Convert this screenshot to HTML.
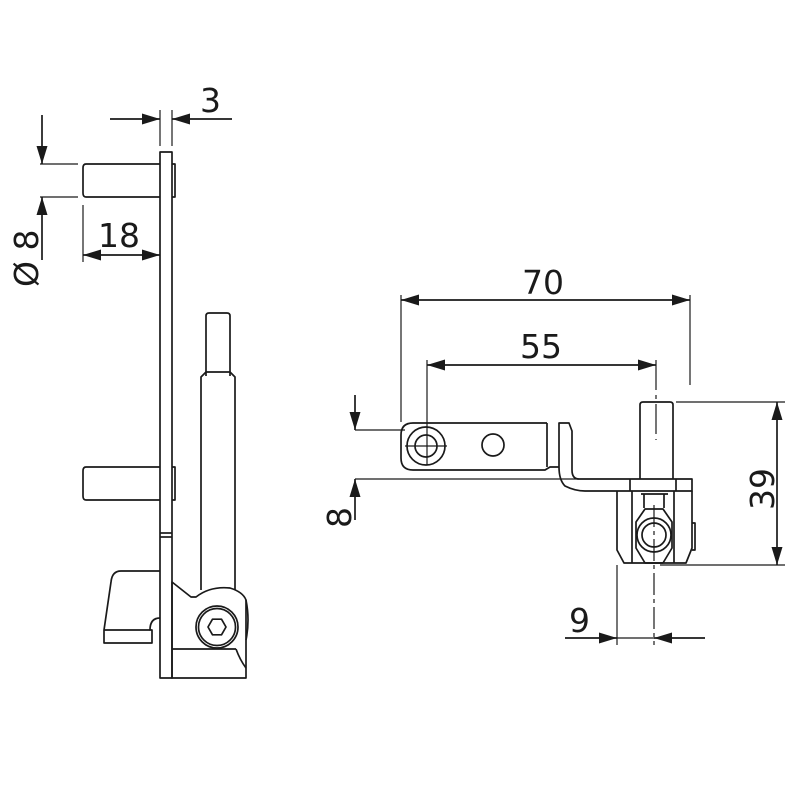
<!DOCTYPE html>
<html><head><style>html,body{margin:0;padding:0;background:#fff}svg{display:block}</style></head><body>
<svg width="801" height="801" viewBox="0 0 801 801" xmlns="http://www.w3.org/2000/svg">
<defs>
<marker id="a" markerWidth="18" markerHeight="11" refX="18" refY="5.5" orient="auto" markerUnits="userSpaceOnUse"><path d="M0,0 L18,5.5 L0,11 Z" fill="#1a1a1a"/></marker>
</defs>
<g fill="none" stroke="#1a1a1a" stroke-width="1.7" stroke-linejoin="round">
<!-- LEFT VIEW -->
<rect x="160" y="152" width="12" height="526"/>
<line x1="160" y1="533" x2="172" y2="533"/><line x1="160" y1="537" x2="172" y2="537"/>
<path d="M160,164 H86 Q83,164 83,168 V193 Q83,197 86,197 H160"/>
<path d="M172,164 H175 V197 H172"/>
<path d="M160,467 H86 Q83,467 83,471 V496 Q83,500 86,500 H160"/>
<path d="M172,467 H175 V500 H172"/>
<path d="M206,376 V316 Q206,313 209,313 H227 Q230,313 230,316 V376"/>
<path d="M201,590 V377 L206,372 H230 L235,377 V590"/>
<path d="M160,571 H121 Q112,571 111,582 L104,630 V643 H152 V630 H150 Q150,618 160,618"/>
<line x1="104" y1="630" x2="150" y2="630"/>
<path d="M172,582 L191,597 H196 Q210,586 230,588 Q243,592 246,600 V660 Q246,670 246,678 H172 Z"/>
<path d="M246,600 Q250,620 246,640"/>
<line x1="172" y1="649" x2="236" y2="649"/>
<path d="M236,649 Q240,660 246,668"/>
<circle cx="217" cy="627" r="21"/><circle cx="217" cy="627" r="18.5"/>
<polygon points="226,627 221.5,619.2 212.5,619.2 208,627 212.5,634.8 221.5,634.8"/>
<line x1="160" y1="110" x2="160" y2="146" stroke-width="1.2"/><line x1="172" y1="110" x2="172" y2="146" stroke-width="1.2"/>
<line x1="110" y1="119" x2="160" y2="119" marker-end="url(#a)"/><line x1="232" y1="119" x2="172" y2="119" marker-end="url(#a)"/>
<line x1="40" y1="164" x2="78" y2="164" stroke-width="1.2"/><line x1="40" y1="197" x2="78" y2="197" stroke-width="1.2"/>
<line x1="42" y1="115" x2="42" y2="164" marker-end="url(#a)"/><line x1="42" y1="260" x2="42" y2="197" marker-end="url(#a)"/>
<line x1="83" y1="205" x2="83" y2="262" stroke-width="1.2"/>
<line x1="122" y1="255" x2="83" y2="255" marker-end="url(#a)"/><line x1="122" y1="255" x2="160" y2="255" marker-end="url(#a)"/>
<!-- RIGHT VIEW -->
<path d="M547,423 H413 Q401,423 401,435 V458 Q401,470 413,470 H545 L550,467 H559 Q559,480 565,486 Q575,491 585,491 H692 V479 H579 Q572,479 572,470 V431 L569,423 H559 V467"/>
<line x1="547" y1="423" x2="547" y2="467"/>
<circle cx="426" cy="446" r="19"/><circle cx="426" cy="446" r="11"/>
<circle cx="493" cy="445" r="11"/>
<line x1="355" y1="479" x2="579" y2="479" stroke-width="1.2"/>
<path d="M640,479 V405 Q640,402 643,402 H670 Q673,402 673,405 V479"/>
<line x1="630" y1="479" x2="630" y2="491"/><line x1="676" y1="479" x2="676" y2="491"/>
<path d="M617,491 V550 L624,563 H686 L692,548 V491"/>
<line x1="632" y1="491" x2="632" y2="563"/><line x1="674" y1="491" x2="674" y2="563"/>
<path d="M692,523 H695 V550 H692"/>
<path d="M644,494 V508 M664,494 V508 M641,494 H668"/>
<path d="M645,509 L663,509 L672,522 V548 L663,563 H645 L636,548 V522 Z"/>
<circle cx="654" cy="535" r="17"/><circle cx="654" cy="535" r="12"/>
<line x1="405" y1="446" x2="447" y2="446" stroke-width="1.2"/>
<line x1="656" y1="360" x2="656" y2="440" stroke-width="1.2" stroke-dasharray="30,5,4,5"/>
<line x1="654" y1="505" x2="654" y2="645" stroke-width="1.2" stroke-dasharray="22,4,4,4"/>
<line x1="401" y1="295" x2="401" y2="422" stroke-width="1.2"/><line x1="690" y1="295" x2="690" y2="385" stroke-width="1.2"/>
<line x1="545" y1="300" x2="401" y2="300" marker-end="url(#a)"/><line x1="545" y1="300" x2="690" y2="300" marker-end="url(#a)"/>
<line x1="427" y1="360" x2="427" y2="465" stroke-width="1.2"/>
<line x1="540" y1="365" x2="427" y2="365" marker-end="url(#a)"/><line x1="540" y1="365" x2="656" y2="365" marker-end="url(#a)"/>
<line x1="676" y1="402" x2="785" y2="402" stroke-width="1.2"/><line x1="660" y1="565" x2="785" y2="565" stroke-width="1.2"/>
<line x1="777" y1="480" x2="777" y2="402" marker-end="url(#a)"/><line x1="777" y1="480" x2="777" y2="565" marker-end="url(#a)"/>
<line x1="355" y1="395" x2="355" y2="430" marker-end="url(#a)"/><line x1="355" y1="520" x2="355" y2="479" marker-end="url(#a)"/>
<line x1="355" y1="430" x2="405" y2="430" stroke-width="1.2"/>
<line x1="617" y1="565" x2="617" y2="645" stroke-width="1.2"/>
<line x1="565" y1="638" x2="617" y2="638" marker-end="url(#a)"/><line x1="705" y1="638" x2="654" y2="638" marker-end="url(#a)"/>
<line x1="617" y1="638" x2="654" y2="638" stroke-width="1.2"/>
</g>
<g font-family="'DejaVu Sans','Liberation Sans',sans-serif" font-size="33" fill="#1a1a1a">
<text x="200" y="112">3</text>
<text x="98" y="247">18</text>
<text transform="translate(38,287) rotate(-90)">Ø 8</text>
<text x="522" y="294">70</text>
<text x="520" y="358">55</text>
<text transform="translate(774,510) rotate(-90)">39</text>
<text transform="translate(351,528) rotate(-90)">8</text>
<text x="569" y="632">9</text>
</g>
</svg>
</body></html>
